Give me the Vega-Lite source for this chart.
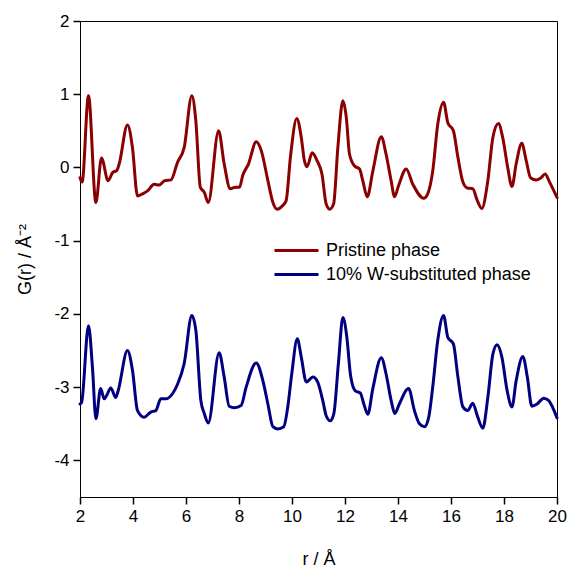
{
  "$schema": "https://vega.github.io/schema/vega-lite/v6.json",
  "width": 477,
  "height": 476,
  "autosize": {"type": "none"},
  "padding": {"left": 80, "top": 21, "right": 15, "bottom": 72},
  "background": "white",
  "config": {
    "view": {"stroke": "black", "strokeWidth": 1},
    "font": "Liberation Sans",
    "axis": {
      "domainColor": "black",
      "labelColor": "black",
      "titleColor": "black",
      "grid": false,
      "labelFont": "Liberation Sans",
      "titleFont": "Liberation Sans",
      "labelFontSize": 17,
      "titleFontSize": 18,
      "titleFontWeight": "normal",
      "domainWidth": 1
    }
  },
  "data": {"values": [
    {"r": 2.0, "g": -0.14, "s": "Pristine phase"},
    {"r": 2.08, "g": -0.2, "s": "Pristine phase"},
    {"r": 2.32, "g": 0.98, "s": "Pristine phase"},
    {"r": 2.6, "g": -0.48, "s": "Pristine phase"},
    {"r": 2.81, "g": 0.13, "s": "Pristine phase"},
    {"r": 3.06, "g": -0.18, "s": "Pristine phase"},
    {"r": 3.23, "g": -0.07, "s": "Pristine phase"},
    {"r": 3.39, "g": -0.04, "s": "Pristine phase"},
    {"r": 3.48, "g": 0.05, "s": "Pristine phase"},
    {"r": 3.79, "g": 0.58, "s": "Pristine phase"},
    {"r": 3.98, "g": 0.27, "s": "Pristine phase"},
    {"r": 4.17, "g": -0.39, "s": "Pristine phase"},
    {"r": 4.36, "g": -0.36, "s": "Pristine phase"},
    {"r": 4.55, "g": -0.32, "s": "Pristine phase"},
    {"r": 4.8, "g": -0.23, "s": "Pristine phase"},
    {"r": 4.99, "g": -0.24, "s": "Pristine phase"},
    {"r": 5.2, "g": -0.18, "s": "Pristine phase"},
    {"r": 5.43, "g": -0.17, "s": "Pristine phase"},
    {"r": 5.68, "g": 0.07, "s": "Pristine phase"},
    {"r": 5.93, "g": 0.27, "s": "Pristine phase"},
    {"r": 6.22, "g": 0.98, "s": "Pristine phase"},
    {"r": 6.37, "g": 0.64, "s": "Pristine phase"},
    {"r": 6.54, "g": -0.27, "s": "Pristine phase"},
    {"r": 6.69, "g": -0.34, "s": "Pristine phase"},
    {"r": 6.84, "g": -0.48, "s": "Pristine phase"},
    {"r": 7.23, "g": 0.5, "s": "Pristine phase"},
    {"r": 7.44, "g": 0.05, "s": "Pristine phase"},
    {"r": 7.67, "g": -0.29, "s": "Pristine phase"},
    {"r": 7.88, "g": -0.27, "s": "Pristine phase"},
    {"r": 8.02, "g": -0.27, "s": "Pristine phase"},
    {"r": 8.14, "g": -0.11, "s": "Pristine phase"},
    {"r": 8.36, "g": 0.05, "s": "Pristine phase"},
    {"r": 8.65, "g": 0.35, "s": "Pristine phase"},
    {"r": 8.84, "g": 0.23, "s": "Pristine phase"},
    {"r": 9.09, "g": -0.18, "s": "Pristine phase"},
    {"r": 9.28, "g": -0.48, "s": "Pristine phase"},
    {"r": 9.43, "g": -0.57, "s": "Pristine phase"},
    {"r": 9.65, "g": -0.52, "s": "Pristine phase"},
    {"r": 9.78, "g": -0.45, "s": "Pristine phase"},
    {"r": 9.94, "g": 0.14, "s": "Pristine phase"},
    {"r": 10.18, "g": 0.67, "s": "Pristine phase"},
    {"r": 10.35, "g": 0.41, "s": "Pristine phase"},
    {"r": 10.47, "g": 0.09, "s": "Pristine phase"},
    {"r": 10.57, "g": 0.01, "s": "Pristine phase"},
    {"r": 10.76, "g": 0.2, "s": "Pristine phase"},
    {"r": 10.95, "g": 0.09, "s": "Pristine phase"},
    {"r": 11.13, "g": -0.09, "s": "Pristine phase"},
    {"r": 11.29, "g": -0.5, "s": "Pristine phase"},
    {"r": 11.42, "g": -0.57, "s": "Pristine phase"},
    {"r": 11.57, "g": -0.5, "s": "Pristine phase"},
    {"r": 11.73, "g": 0.27, "s": "Pristine phase"},
    {"r": 11.92, "g": 0.91, "s": "Pristine phase"},
    {"r": 12.05, "g": 0.68, "s": "Pristine phase"},
    {"r": 12.17, "g": 0.18, "s": "Pristine phase"},
    {"r": 12.36, "g": 0.02, "s": "Pristine phase"},
    {"r": 12.55, "g": -0.02, "s": "Pristine phase"},
    {"r": 12.67, "g": -0.18, "s": "Pristine phase"},
    {"r": 12.84, "g": -0.4, "s": "Pristine phase"},
    {"r": 13.05, "g": -0.05, "s": "Pristine phase"},
    {"r": 13.37, "g": 0.42, "s": "Pristine phase"},
    {"r": 13.55, "g": 0.18, "s": "Pristine phase"},
    {"r": 13.74, "g": -0.18, "s": "Pristine phase"},
    {"r": 13.87, "g": -0.4, "s": "Pristine phase"},
    {"r": 14.02, "g": -0.25, "s": "Pristine phase"},
    {"r": 14.31, "g": -0.02, "s": "Pristine phase"},
    {"r": 14.56, "g": -0.23, "s": "Pristine phase"},
    {"r": 14.97, "g": -0.42, "s": "Pristine phase"},
    {"r": 15.12, "g": -0.36, "s": "Pristine phase"},
    {"r": 15.31, "g": -0.05, "s": "Pristine phase"},
    {"r": 15.5, "g": 0.59, "s": "Pristine phase"},
    {"r": 15.72, "g": 0.89, "s": "Pristine phase"},
    {"r": 15.88, "g": 0.61, "s": "Pristine phase"},
    {"r": 16.09, "g": 0.5, "s": "Pristine phase"},
    {"r": 16.26, "g": 0.14, "s": "Pristine phase"},
    {"r": 16.45, "g": -0.2, "s": "Pristine phase"},
    {"r": 16.61, "g": -0.28, "s": "Pristine phase"},
    {"r": 16.82, "g": -0.29, "s": "Pristine phase"},
    {"r": 16.99, "g": -0.45, "s": "Pristine phase"},
    {"r": 17.16, "g": -0.56, "s": "Pristine phase"},
    {"r": 17.39, "g": -0.18, "s": "Pristine phase"},
    {"r": 17.58, "g": 0.41, "s": "Pristine phase"},
    {"r": 17.79, "g": 0.6, "s": "Pristine phase"},
    {"r": 17.95, "g": 0.41, "s": "Pristine phase"},
    {"r": 18.14, "g": 0.0, "s": "Pristine phase"},
    {"r": 18.3, "g": -0.26, "s": "Pristine phase"},
    {"r": 18.46, "g": 0.05, "s": "Pristine phase"},
    {"r": 18.67, "g": 0.33, "s": "Pristine phase"},
    {"r": 18.84, "g": 0.09, "s": "Pristine phase"},
    {"r": 19.0, "g": -0.14, "s": "Pristine phase"},
    {"r": 19.22, "g": -0.17, "s": "Pristine phase"},
    {"r": 19.4, "g": -0.14, "s": "Pristine phase"},
    {"r": 19.55, "g": -0.09, "s": "Pristine phase"},
    {"r": 19.72, "g": -0.2, "s": "Pristine phase"},
    {"r": 20.0, "g": -0.41, "s": "Pristine phase"},

    {"r": 2.0, "g": -3.23, "s": "10% W-substituted phase"},
    {"r": 2.06, "g": -3.21, "s": "10% W-substituted phase"},
    {"r": 2.32, "g": -2.16, "s": "10% W-substituted phase"},
    {"r": 2.47, "g": -2.73, "s": "10% W-substituted phase"},
    {"r": 2.6, "g": -3.43, "s": "10% W-substituted phase"},
    {"r": 2.78, "g": -3.02, "s": "10% W-substituted phase"},
    {"r": 2.91, "g": -3.16, "s": "10% W-substituted phase"},
    {"r": 3.01, "g": -3.11, "s": "10% W-substituted phase"},
    {"r": 3.16, "g": -3.01, "s": "10% W-substituted phase"},
    {"r": 3.35, "g": -3.14, "s": "10% W-substituted phase"},
    {"r": 3.44, "g": -3.05, "s": "10% W-substituted phase"},
    {"r": 3.79, "g": -2.5, "s": "10% W-substituted phase"},
    {"r": 3.98, "g": -2.77, "s": "10% W-substituted phase"},
    {"r": 4.17, "g": -3.32, "s": "10% W-substituted phase"},
    {"r": 4.42, "g": -3.41, "s": "10% W-substituted phase"},
    {"r": 4.67, "g": -3.34, "s": "10% W-substituted phase"},
    {"r": 4.86, "g": -3.32, "s": "10% W-substituted phase"},
    {"r": 5.05, "g": -3.16, "s": "10% W-substituted phase"},
    {"r": 5.24, "g": -3.16, "s": "10% W-substituted phase"},
    {"r": 5.49, "g": -3.09, "s": "10% W-substituted phase"},
    {"r": 5.68, "g": -2.96, "s": "10% W-substituted phase"},
    {"r": 5.93, "g": -2.68, "s": "10% W-substituted phase"},
    {"r": 6.22, "g": -2.02, "s": "10% W-substituted phase"},
    {"r": 6.37, "g": -2.22, "s": "10% W-substituted phase"},
    {"r": 6.56, "g": -3.18, "s": "10% W-substituted phase"},
    {"r": 6.69, "g": -3.36, "s": "10% W-substituted phase"},
    {"r": 6.84, "g": -3.49, "s": "10% W-substituted phase"},
    {"r": 7.25, "g": -2.53, "s": "10% W-substituted phase"},
    {"r": 7.44, "g": -2.86, "s": "10% W-substituted phase"},
    {"r": 7.63, "g": -3.26, "s": "10% W-substituted phase"},
    {"r": 7.83, "g": -3.28, "s": "10% W-substituted phase"},
    {"r": 8.08, "g": -3.25, "s": "10% W-substituted phase"},
    {"r": 8.27, "g": -3.0, "s": "10% W-substituted phase"},
    {"r": 8.65, "g": -2.67, "s": "10% W-substituted phase"},
    {"r": 8.9, "g": -2.91, "s": "10% W-substituted phase"},
    {"r": 9.09, "g": -3.23, "s": "10% W-substituted phase"},
    {"r": 9.28, "g": -3.54, "s": "10% W-substituted phase"},
    {"r": 9.46, "g": -3.57, "s": "10% W-substituted phase"},
    {"r": 9.69, "g": -3.54, "s": "10% W-substituted phase"},
    {"r": 9.84, "g": -3.27, "s": "10% W-substituted phase"},
    {"r": 9.99, "g": -2.82, "s": "10% W-substituted phase"},
    {"r": 10.2, "g": -2.34, "s": "10% W-substituted phase"},
    {"r": 10.35, "g": -2.59, "s": "10% W-substituted phase"},
    {"r": 10.54, "g": -2.93, "s": "10% W-substituted phase"},
    {"r": 10.79, "g": -2.86, "s": "10% W-substituted phase"},
    {"r": 10.97, "g": -2.93, "s": "10% W-substituted phase"},
    {"r": 11.16, "g": -3.18, "s": "10% W-substituted phase"},
    {"r": 11.29, "g": -3.39, "s": "10% W-substituted phase"},
    {"r": 11.45, "g": -3.46, "s": "10% W-substituted phase"},
    {"r": 11.58, "g": -3.36, "s": "10% W-substituted phase"},
    {"r": 11.75, "g": -2.68, "s": "10% W-substituted phase"},
    {"r": 11.92, "g": -2.05, "s": "10% W-substituted phase"},
    {"r": 12.07, "g": -2.32, "s": "10% W-substituted phase"},
    {"r": 12.21, "g": -2.84, "s": "10% W-substituted phase"},
    {"r": 12.39, "g": -3.05, "s": "10% W-substituted phase"},
    {"r": 12.58, "g": -3.08, "s": "10% W-substituted phase"},
    {"r": 12.71, "g": -3.23, "s": "10% W-substituted phase"},
    {"r": 12.86, "g": -3.37, "s": "10% W-substituted phase"},
    {"r": 13.05, "g": -3.02, "s": "10% W-substituted phase"},
    {"r": 13.37, "g": -2.6, "s": "10% W-substituted phase"},
    {"r": 13.55, "g": -2.82, "s": "10% W-substituted phase"},
    {"r": 13.74, "g": -3.18, "s": "10% W-substituted phase"},
    {"r": 13.88, "g": -3.36, "s": "10% W-substituted phase"},
    {"r": 14.05, "g": -3.23, "s": "10% W-substituted phase"},
    {"r": 14.4, "g": -3.02, "s": "10% W-substituted phase"},
    {"r": 14.62, "g": -3.32, "s": "10% W-substituted phase"},
    {"r": 14.81, "g": -3.5, "s": "10% W-substituted phase"},
    {"r": 15.0, "g": -3.54, "s": "10% W-substituted phase"},
    {"r": 15.16, "g": -3.41, "s": "10% W-substituted phase"},
    {"r": 15.31, "g": -3.0, "s": "10% W-substituted phase"},
    {"r": 15.5, "g": -2.36, "s": "10% W-substituted phase"},
    {"r": 15.72, "g": -2.02, "s": "10% W-substituted phase"},
    {"r": 15.88, "g": -2.32, "s": "10% W-substituted phase"},
    {"r": 16.09, "g": -2.41, "s": "10% W-substituted phase"},
    {"r": 16.26, "g": -2.86, "s": "10% W-substituted phase"},
    {"r": 16.45, "g": -3.27, "s": "10% W-substituted phase"},
    {"r": 16.63, "g": -3.32, "s": "10% W-substituted phase"},
    {"r": 16.82, "g": -3.22, "s": "10% W-substituted phase"},
    {"r": 17.01, "g": -3.41, "s": "10% W-substituted phase"},
    {"r": 17.2, "g": -3.56, "s": "10% W-substituted phase"},
    {"r": 17.39, "g": -3.14, "s": "10% W-substituted phase"},
    {"r": 17.58, "g": -2.55, "s": "10% W-substituted phase"},
    {"r": 17.74, "g": -2.42, "s": "10% W-substituted phase"},
    {"r": 17.92, "g": -2.59, "s": "10% W-substituted phase"},
    {"r": 18.12, "g": -3.05, "s": "10% W-substituted phase"},
    {"r": 18.3, "g": -3.27, "s": "10% W-substituted phase"},
    {"r": 18.46, "g": -2.91, "s": "10% W-substituted phase"},
    {"r": 18.71, "g": -2.58, "s": "10% W-substituted phase"},
    {"r": 18.88, "g": -2.86, "s": "10% W-substituted phase"},
    {"r": 19.05, "g": -3.26, "s": "10% W-substituted phase"},
    {"r": 19.25, "g": -3.23, "s": "10% W-substituted phase"},
    {"r": 19.5, "g": -3.15, "s": "10% W-substituted phase"},
    {"r": 19.68, "g": -3.18, "s": "10% W-substituted phase"},
    {"r": 20.0, "g": -3.42, "s": "10% W-substituted phase"}
  ]},
  "mark": {"type": "line", "strokeWidth": 3, "interpolate": "monotone", "strokeJoin": "round", "strokeCap": "round"},
  "encoding": {
    "x": {
      "field": "r", "type": "quantitative",
      "scale": {"domain": [2, 20], "nice": false, "zero": false},
      "axis": {"title": "r / Å", "values": [2, 4, 6, 8, 10, 12, 14, 16, 18, 20], "ticks": true, "tickSize": 7, "tickColor": "black", "tickWidth": 1.5, "tickOpacity": 1, "tickRound": true, "labelPadding": 4, "titlePadding": 26, "labelFlush": false}
    },
    "y": {
      "field": "g", "type": "quantitative",
      "scale": {"domain": [-4.5, 2], "nice": false, "zero": false},
      "axis": {"title": "G(r) / Å⁻²", "values": [-4, -3, -2, -1, 0, 1, 2], "ticks": true, "tickSize": 7, "tickColor": "black", "tickWidth": 1.5, "tickOpacity": 1, "tickRound": true, "labelPadding": 4, "titlePadding": 19, "labelFlush": false, "labelExpr": "replace(datum.label, '−', '-')"}
    },
    "color": {
      "field": "s", "type": "nominal",
      "scale": {"domain": ["Pristine phase", "10% W-substituted phase"], "range": ["#8B0000", "#000080"]},
      "legend": {
        "title": null,
        "orient": "none",
        "legendX": 204,
        "legendY": 217,
        "symbolType": "M-2,0H2",
        "symbolSize": 484,
        "symbolStrokeWidth": 3,
        "labelFontSize": 18,
        "labelFont": "Liberation Sans",
        "labelColor": "black",
        "labelOffset": 17,
        "labelLimit": 400,
        "rowPadding": 2,
        "padding": 0
      }
    }
  }
}
